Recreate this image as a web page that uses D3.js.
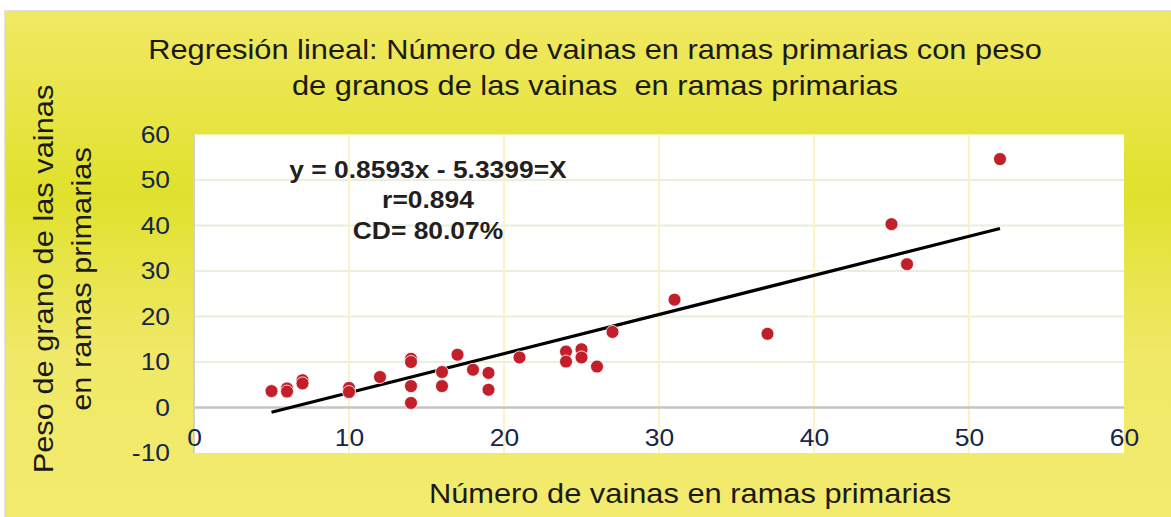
<!DOCTYPE html>
<html><head><meta charset="utf-8">
<script src="https://cdn.jsdelivr.net/npm/d3@7"></script>
<style>body{margin:0;background:#fff}svg{display:block}text{font-family:"Liberation Sans",Arial,sans-serif}</style>
</head><body><svg id="c" width="1171" height="517"></svg>
<script>
const xVals = [5,6,6,7,7,10,10,12,14,14,14,14,16,16,17,18,19,19,21,24,24,25,25,26,27,31,37,45,46,52];
const yVals = [3.6,4.2,3.5,6.0,5.3,4.3,3.4,6.7,10.7,10.0,4.7,1.0,7.8,4.7,11.6,8.3,7.6,3.9,11.0,12.3,10.1,12.8,11.0,9.0,16.6,23.7,16.2,40.3,31.5,54.6];
const xTicks = [0,10,20,30,40,50,60];
const yTicks = [-10,0,10,20,30,40,50,60];
const slope = 0.8593, intercept = -5.3399;
const titleLines = ["Regresión lineal: Número de vainas en ramas primarias con peso","de granos de las vainas  en ramas primarias"];
const yTitleLines = ["Peso de grano de las vainas","en ramas primarias"];
const xTitle = "Número de vainas en ramas primarias";
const annot = ["y = 0.8593x - 5.3399=X","r=0.894","CD= 80.07%"];

const STRETCH = 1.1;
function stretch(sel){
  sel.each(function(){
    const l = this.getComputedTextLength();
    d3.select(this).attr("textLength", l*STRETCH).attr("lengthAdjust","spacingAndGlyphs");
  });
}

const svg = d3.select("#c");
const defs = svg.append("defs");
const g = defs.append("linearGradient").attr("id","bg").attr("x1",0).attr("y1",0).attr("x2",0).attr("y2",1);
g.append("stop").attr("offset","0%").attr("stop-color","#f1e964");
g.append("stop").attr("offset","35%").attr("stop-color","#e0e12c");
g.append("stop").attr("offset","65%").attr("stop-color","#f0e866");
g.append("stop").attr("offset","100%").attr("stop-color","#f3eb6e");
svg.append("rect").attr("x",5).attr("y",11).attr("width",1180).attr("height",520)
  .attr("fill","url(#bg)").attr("stroke","#d8d8d8").attr("stroke-width",1.5);

const x = d3.scaleLinear().domain([0,60]).range([194,1124]);
const y = d3.scaleLinear().domain([-10,60]).range([453,134.5]);

svg.append("rect").attr("x",x(0)).attr("y",y(60)).attr("width",x(60)-x(0)).attr("height",y(-10)-y(60)).attr("fill","#fff");

// gridlines
svg.append("g").selectAll("line").data(yTicks.filter(d=>d>0 && d<60)).join("line")
  .attr("x1",x(0)).attr("x2",x(60)).attr("y1",d=>y(d)).attr("y2",d=>y(d))
  .attr("stroke","#e6f0dc").attr("stroke-width",2);
svg.append("g").selectAll("line").data(xTicks.filter(d=>d>0 && d<60)).join("line")
  .attr("x1",d=>x(d)).attr("x2",d=>x(d)).attr("y1",y(60)).attr("y2",y(-10))
  .attr("stroke","#fdf1c8").attr("stroke-width",2);

// axes lines
svg.append("line").attr("x1",x(0)).attr("x2",x(60)).attr("y1",y(0)).attr("y2",y(0)).attr("stroke","#c4c4c4").attr("stroke-width",2.5);
svg.append("line").attr("x1",x(0)).attr("x2",x(0)).attr("y1",y(60)).attr("y2",y(-10)).attr("stroke","#d0d0d0").attr("stroke-width",2);

// tick labels via axes
const yAxis = svg.append("g").attr("transform",`translate(${x(0)},0)`)
  .call(d3.axisLeft(y).tickValues(yTicks).tickFormat(d=>String(d)).tickSize(0).tickPadding(24));
yAxis.select(".domain").remove();
yAxis.selectAll("text").attr("font-size",24).attr("fill","#15264a").attr("font-family","Liberation Sans, Arial").call(stretch);
const xAxis = svg.append("g").attr("transform",`translate(0,${y(0)})`)
  .call(d3.axisBottom(x).tickValues(xTicks).tickFormat(d=>String(d)).tickSize(0).tickPadding(21));
xAxis.select(".domain").remove();
xAxis.selectAll("text").attr("font-size",24).attr("fill","#15264a").attr("font-family","Liberation Sans, Arial").call(stretch);

// regression line
const xMin = d3.min(xVals), xMax = d3.max(xVals);
svg.append("line").attr("x1",x(xMin)).attr("y1",y(slope*xMin+intercept)).attr("x2",x(xMax)).attr("y2",y(slope*xMax+intercept))
  .attr("stroke","#000").attr("stroke-width",3.2);

// points
const pts = xVals.map((v,i)=>({x:v,y:yVals[i]}));
svg.append("g").selectAll("circle").data(pts).join("circle")
  .attr("cx",d=>x(d.x)).attr("cy",d=>y(d.y)).attr("r",6.5)
  .attr("fill","#c11f2a").attr("stroke","#fff").attr("stroke-width",0.8);

// annotation
svg.append("g").selectAll("text").data(annot).join("text")
  .attr("x",428).attr("y",(d,i)=>[177.5,207.5,238.5][i]).attr("text-anchor","middle")
  .attr("font-size",24).attr("font-weight","bold").attr("fill","#231f20").text(d=>d).call(stretch);

// titles
svg.append("g").selectAll("text").data(titleLines).join("text")
  .attr("x",595).attr("y",(d,i)=>59+i*36).attr("text-anchor","middle").attr("font-size",28).attr("fill","#1a1a1a")
  .attr("xml:space","preserve").style("white-space","pre").text(d=>d).call(stretch);
svg.append("text").attr("x",690).attr("y",503).attr("text-anchor","middle").attr("font-size",28).attr("fill","#1a1a1a").text(xTitle).call(stretch);
svg.append("g").selectAll("text").data(yTitleLines).join("text")
  .attr("transform",(d,i)=>`translate(${53+i*38},279) rotate(-90)`).attr("text-anchor","middle").attr("font-size",28).attr("fill","#1a1a1a").text(d=>d).call(stretch);
</script></body></html>
